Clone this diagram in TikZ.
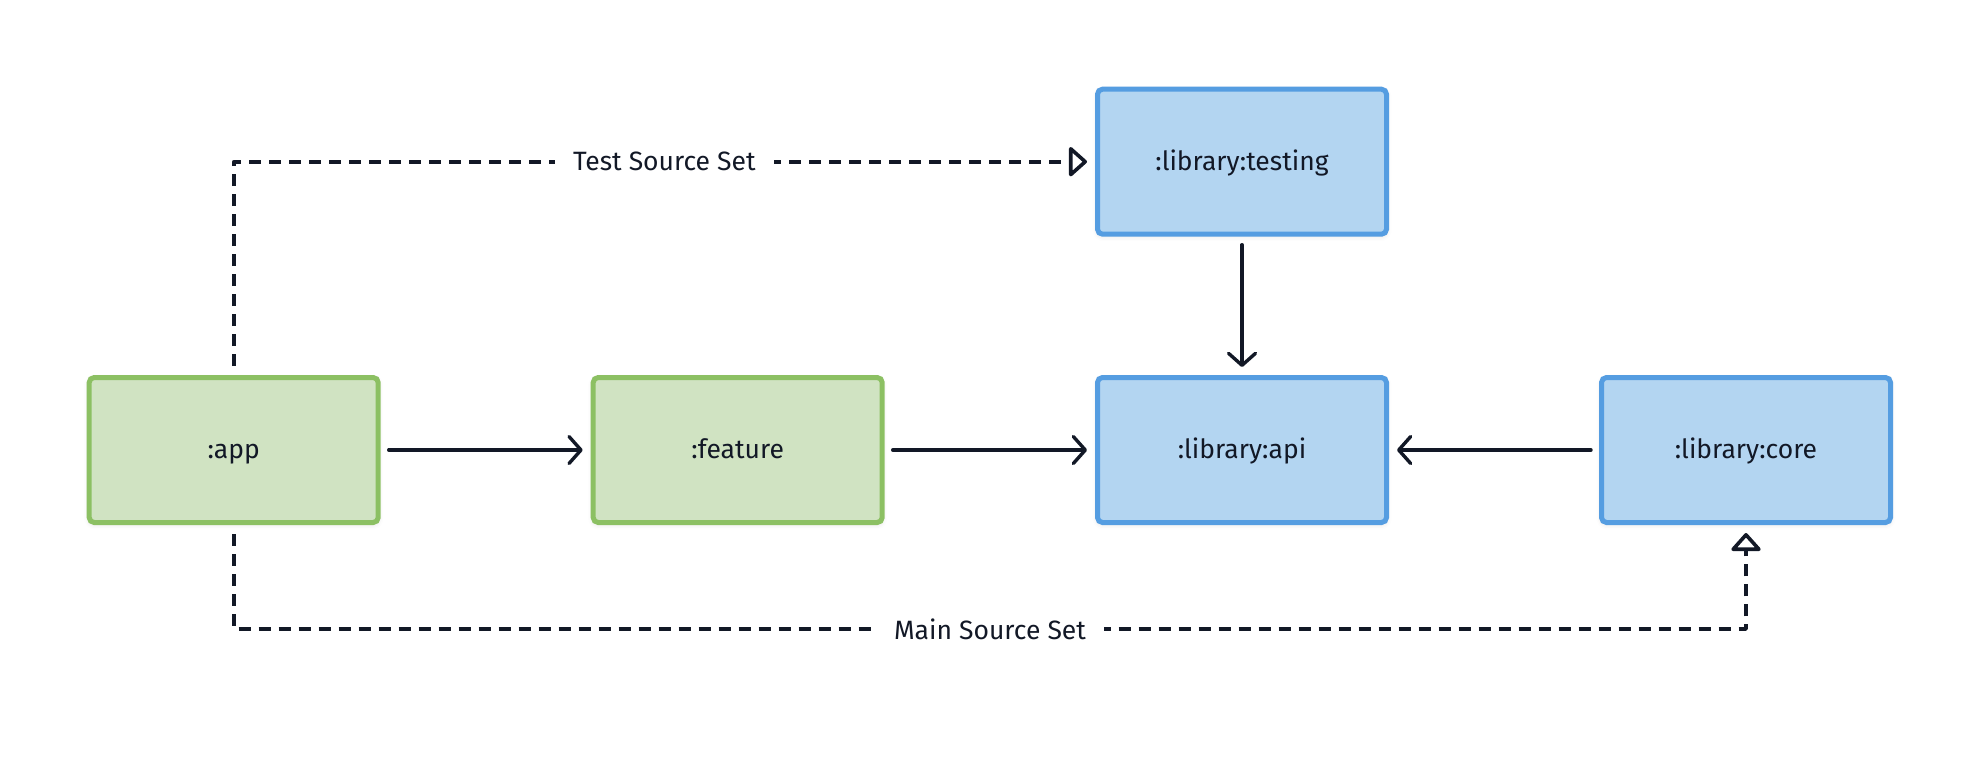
\documentclass[tikz,border=0pt]{standalone}
\usepackage{fontspec}
\setmainfont{Fira Sans}
\usetikzlibrary{arrows.meta,shadows.blur}
\definecolor{ink}{HTML}{121826}
\definecolor{gfill}{HTML}{D0E3C2}
\definecolor{gline}{HTML}{8CC063}
\definecolor{bfill}{HTML}{B3D5F1}
\definecolor{bline}{HTML}{559DE1}
\tikzset{
  modbox/.style={rectangle, rounded corners=5pt, line width=5pt, minimum width=289pt, minimum height=145pt,
    inner sep=0pt, text=ink, font=\fontsize{26.5}{30}\selectfont, text height=19.5pt, text depth=2.5pt,
    blur shadow={shadow xshift=0pt, shadow yshift=-2pt, shadow blur radius=5pt, shadow opacity=12}},
  greenbox/.style={modbox, draw=gline, fill=gfill},
  bluebox/.style={modbox, draw=bline, fill=bfill},
  dep/.style={draw=ink, line width=3.4pt, line cap=round, line join=round,
    -{Straight Barb[length=12pt,width=27pt,round]}, shorten <=8pt, shorten >=8pt},
  srcset/.style={draw=ink, line width=3.6pt, line join=round, dash pattern=on 12pt off 8pt,
    -{Triangle[open,length=19pt,width=33pt,round]}, shorten <=9pt, shorten >=8pt},
  lbl/.style={fill=white, text=ink, inner xsep=18pt, inner ysep=6pt, font=\fontsize{26.5}{30}\selectfont}
}
\begin{document}
\begin{tikzpicture}[x=1pt,y=-1pt]
\useasboundingbox (0,0) rectangle (1980,756);
\node[greenbox] (app) at (233.7,450) {:app};
\node[greenbox] (feature) at (737.7,450) {:feature};
\node[bluebox] (api) at (1242,450) {:library:api};
\node[bluebox] (core) at (1746,450) {:library:core};
\node[bluebox] (testing) at (1242,161.7) {:library:testing};
\draw[dep] (app) -- (feature);
\draw[dep] (feature) -- (api);
\draw[dep] (core) -- (api);
\draw[dep] (testing) -- (api);
\draw[srcset] (app.north) |- node[lbl, pos=0.75] (testlbl) {Test Source Set} (testing.west);
\coordinate (mainmid) at (990,629);
\draw[srcset] (app.south) |- (mainmid) -| (core.south);
\node[lbl] (mainlbl) at (mainmid) {Main Source Set};
\end{tikzpicture}
\end{document}
